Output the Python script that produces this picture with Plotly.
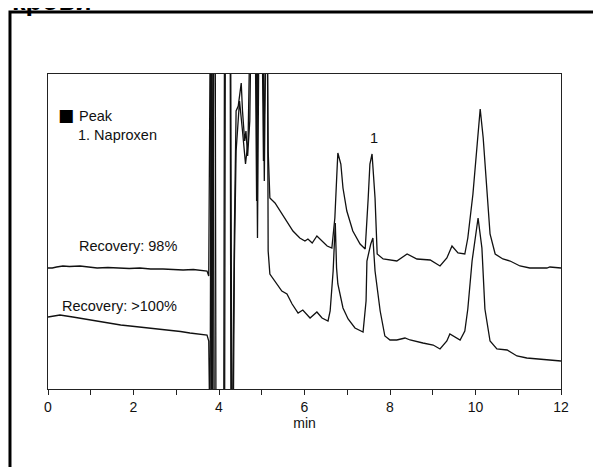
import plotly.graph_objects as go

# trace with 98% recovery (upper) - time in min, signal in arbitrary units
t_upper = [0, 0.1, 0.2, 0.35, 0.5, 0.75, 0.95, 1.15, 1.4, 1.61, 1.9, 2.15, 2.4, 2.69, 2.9, 3.16, 3.4, 3.55, 3.72,
           3.76, 3.80, 3.83, 3.86, 3.89, 4.13, 4.15, 4.26, 4.28, 4.31, 4.36, 4.40, 4.45, 4.48, 4.52, 4.55, 4.60,
           4.63, 4.67, 4.72, 4.76, 4.86, 4.90, 4.94, 5.00, 5.04, 5.08, 5.12, 5.15,
           5.19, 5.31, 5.43, 5.59, 5.73, 5.89, 6.01, 6.08, 6.18, 6.29, 6.41, 6.53, 6.64, 6.71, 6.76, 6.78,
           6.85, 6.90, 6.99, 7.13, 7.30, 7.42, 7.49, 7.53, 7.58, 7.60, 7.65, 7.70, 7.84, 8.16, 8.40, 8.63,
           8.94, 9.17, 9.33, 9.40, 9.45, 9.59, 9.75, 9.82, 9.94, 10.04, 10.11, 10.18, 10.27, 10.34, 10.46,
           10.64, 10.81, 11.04, 11.27, 11.67, 11.74, 12.0]
s_upper = [121, 121, 122, 123, 122.5, 123, 122, 121, 121.5, 121, 120.5, 121, 120, 120, 119.5, 119, 119.5, 118.5, 118,
           113, 400, -60, 400, -60, -60, 400, 400, -60, -60, 158, 278, 283, 293, 306, 278, 248,
           258, 233, 268, 400, 400, 151, 400, 400, 228, 400, 400, 238,
           191, 186, 178, 168, 158, 151, 148, 150, 146, 153, 148, 143, 141, 171, 218, 236,
           225, 201, 178, 158, 145, 140, 191, 225, 235, 225, 191, 135, 130, 128, 135, 130,
           129, 123, 131, 138, 143, 136, 135, 151, 195, 245, 280, 251, 195, 155, 135,
           130, 128, 123, 121, 121, 122, 121]

# trace with >100% recovery (lower)
t_lower = [0, 0.28, 0.58, 0.98, 1.2, 1.45, 1.7, 1.92, 2.15, 2.39, 2.6, 2.85, 3.1, 3.32, 3.55, 3.72,
           3.76, 3.79, 3.82, 3.85, 3.88, 3.91, 3.93, 4.11, 4.13, 4.27, 4.30, 4.33, 4.36, 4.40, 4.48, 4.55,
           4.62, 4.68, 4.74, 4.84, 4.88, 4.92, 5.02, 5.06, 5.10, 5.13, 5.15,
           5.19, 5.31, 5.47, 5.59, 5.71, 5.85, 5.96, 6.13, 6.29, 6.41, 6.55, 6.60, 6.67, 6.72, 6.75, 6.78,
           6.90, 7.02, 7.18, 7.37, 7.44, 7.46, 7.55, 7.60, 7.65, 7.77, 7.88, 8.00, 8.16, 8.35, 8.47, 8.77,
           9.01, 9.17, 9.33, 9.40, 9.52, 9.64, 9.75, 9.82, 9.92, 10.06, 10.15, 10.22, 10.34, 10.50, 10.74,
           10.97, 11.20, 11.51, 11.93, 12.0]
s_lower = [72, 74, 72, 69, 67.5, 66, 64, 63, 62, 61, 60, 59, 57.5, 56, 55, 54,
           48, -60, 400, -60, 400, 400, -60, -60, 400, 400, -60, -60, 128, 238, 288, 258,
           225, 248, 400, 400, 188, 400, 400, 208, 400, 400, 138,
           115, 108, 98, 95, 85, 76, 79, 71, 77, 71, 68, 78, 118, 166, 121, 105,
           81, 70, 61, 57, 88, 128, 145, 151, 118, 78, 53, 49, 49, 51, 49, 46,
           44, 40, 48, 55, 52, 49, 58, 80, 128, 171, 141, 80, 48, 40, 39,
           33, 31, 30, 28, 28]

x_ticks = [0, 2, 4, 6, 8, 10, 12]

font = "Liberation Sans, Arial, sans-serif"

fig = go.Figure()
fig.add_trace(go.Scatter(x=t_upper, y=s_upper, mode="lines",
                         line=dict(color="#111111", width=1.3)))
fig.add_trace(go.Scatter(x=t_lower, y=s_lower, mode="lines",
                         line=dict(color="#111111", width=1.3)))

labels = [
    ("Peak", 0.68, 273, "left"),
    ("1. Naproxen", 0.655, 254, "left"),
    ("1", 7.63, 251, "center"),
    ("Recovery: 98%", 1.86, 143, "center"),
    ("Recovery: >100%", 1.68, 83, "center"),
]
for txt, x, y, anchor in labels:
    fig.add_annotation(x=x, y=y, text=txt, showarrow=False, xanchor=anchor,
                       yanchor="middle", font=dict(family=font, size=14.5, color="#111111"))

# legend square
fig.add_annotation(x=0.41, y=274, text="■", showarrow=False, xanchor="center", yanchor="middle",
                   font=dict(family="DejaVu Sans", size=17, color="black"))

# partly cut caption at the very top
fig.add_annotation(xref="paper", yref="paper", x=-0.074, y=1.178, text="<b>крови</b>",
                   showarrow=False, xanchor="left", yanchor="bottom",
                   font=dict(family=font, size=27, color="black"))

# outer frame
fig.add_shape(type="rect", xref="paper", yref="paper", x0=-0.0741, x1=1.3, y0=-0.5, y1=1.1968,
              line=dict(color="black", width=3))

# margins compensate for the 8px page body margin
fig.update_layout(
    width=601, height=467,
    margin=dict(l=40, r=48, t=66, b=86),
    paper_bgcolor="white", plot_bgcolor="white",
    showlegend=False,
    font=dict(family=font, color="#111111"),
)
fig.update_xaxes(range=[0, 12], tickvals=x_ticks, ticks="outside", ticklen=5, tickcolor="#222222",
                 showline=True, linecolor="#222222", linewidth=1, mirror=True, showgrid=False,
                 zeroline=False, tickfont=dict(size=14),
                 minor=dict(dtick=1, ticks="outside", ticklen=5, tickcolor="#222222"),
                 title=dict(text="min", font=dict(size=14), standoff=0))
fig.update_yaxes(range=[0, 315], showticklabels=False, ticks="", showline=True, linecolor="#222222",
                 linewidth=1, mirror=True, showgrid=False, zeroline=False)

fig.write_html("out.html")
